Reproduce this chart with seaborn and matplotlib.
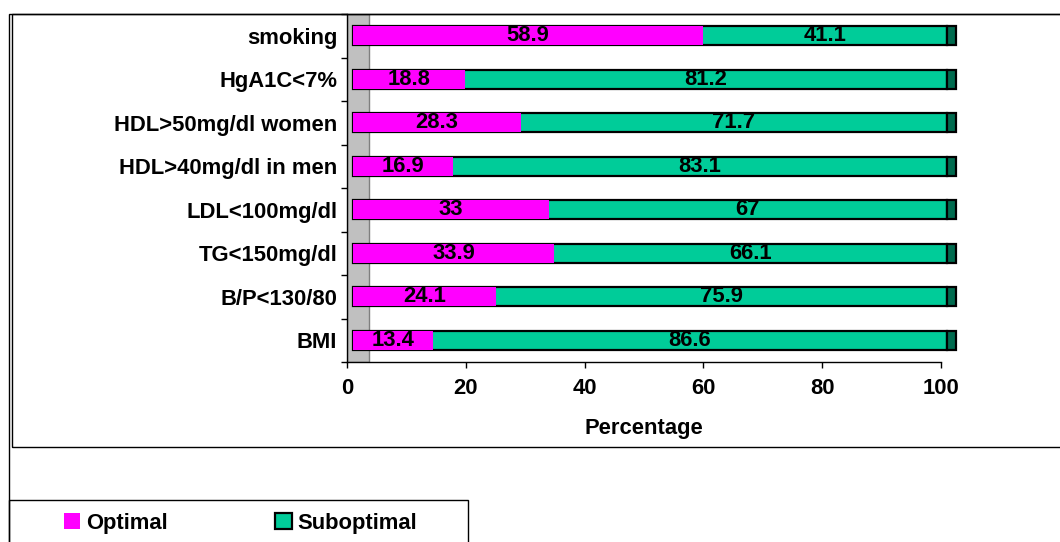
import matplotlib
matplotlib.use("Agg")
import matplotlib.pyplot as plt
from matplotlib.patches import Rectangle, Patch
import seaborn as sns
import pandas as pd

categories = ["smoking", "HgA1C<7%", "HDL>50mg/dl women", "HDL>40mg/dl in men",
              "LDL<100mg/dl", "TG<150mg/dl", "B/P<130/80", "BMI"]
optimal = [58.9, 18.8, 28.3, 16.9, 33, 33.9, 24.1, 13.4]
suboptimal = [41.1, 81.2, 71.7, 83.1, 67, 66.1, 75.9, 86.6]
x_ticks = [0, 20, 40, 60, 80, 100]

PINK = "#ff00ff"
GREEN = "#00cc99"
GREEN_SIDE = "#006b4f"
WALL = "#c0c0c0"
DEPTH = 1.0      # 3-D depth shift of the bar faces
CAP = 1.6        # width of the visible bar end side
FS = 15.8

sns.set_style("white")
plt.rcParams["font.family"] = ["Liberation Sans", "DejaVu Sans"]
plt.rcParams["font.weight"] = "bold"
for key in ("text.color", "axes.labelcolor", "xtick.color", "ytick.color"):
    plt.rcParams[key] = "black"

df = pd.DataFrame({"cat": categories, "opt": optimal, "sub": suboptimal})
df["total"] = df["opt"] + df["sub"]

fig = plt.figure(figsize=(10.6, 5.42), dpi=100)
W, H = 1060, 542
ax = fig.add_axes([347 / W, 1 - 362 / H, (941 - 347) / W, (362 - 14) / H])

sns.barplot(data=df, x="total", y="cat", order=categories, color=GREEN,
            edgecolor="black", linewidth=1.6, width=0.44, saturation=1,
            ax=ax, zorder=2)
sns.barplot(data=df, x="opt", y="cat", order=categories, color=PINK,
            linewidth=0, width=0.44, saturation=1, ax=ax, zorder=3)

for p in ax.patches:
    p.set_x(p.get_x() + DEPTH)
    p.set_clip_on(False)

# back wall of the 3-D plot area
ax.axvspan(0, 3.7, facecolor=WALL, edgecolor="#7f7f7f", lw=1.0, zorder=0)

# right-hand side faces of the bars
ax.barh(range(len(categories)), [CAP] * len(categories),
        left=[DEPTH + t for t in df["total"]], height=0.44,
        color=GREEN_SIDE, edgecolor="black", linewidth=1.6, zorder=2,
        clip_on=False)

for i, (o, s) in enumerate(zip(optimal, suboptimal)):
    ax.text(DEPTH + o / 2, i, f"{o:g}", ha="center", va="center",
            fontsize=FS, fontweight="bold", zorder=5)
    ax.text(DEPTH + o + s / 2, i, f"{s:g}", ha="center", va="center",
            fontsize=FS, fontweight="bold", zorder=5)

ax.set_xlim(0, 100)
ax.set_ylim(len(categories) - 0.5, -0.5)
ax.set_xticks(x_ticks)
ax.set_xticklabels([str(t) for t in x_ticks], fontsize=FS, fontweight="bold")
ax.set_yticks(range(len(categories)))
ax.set_yticklabels(categories, fontsize=FS, fontweight="bold")
ax.set_yticks([i + 0.5 for i in range(-1, len(categories))], minor=True)
ax.tick_params(axis="y", which="major", length=0, pad=7)
ax.tick_params(axis="y", which="minor", length=4, width=1, color="black",
               direction="out", left=True)
ax.tick_params(axis="x", which="major", length=4.5, width=1, color="black",
               direction="out", bottom=True, pad=7)
ax.set_xlabel("Percentage", fontsize=FS, fontweight="bold", labelpad=14)
ax.set_ylabel("")
for side in ("top", "right"):
    ax.spines[side].set_visible(False)
for side in ("left", "bottom"):
    ax.spines[side].set_color("black")
    ax.spines[side].set_linewidth(1.0)
ax.grid(False)

# chart frames and legend box
fig.add_artist(Rectangle((9 / W, -0.1), 1.1, 1.1 - 14 / H, transform=fig.transFigure,
                         fill=False, edgecolor="black", lw=1.0, clip_on=False))
fig.add_artist(Rectangle((12 / W, 1 - 447 / H), 1.1, (447 - 14) / H,
                         transform=fig.transFigure, fill=False,
                         edgecolor="black", lw=1.0, clip_on=False))
fig.add_artist(Rectangle((9 / W, -0.1), (468 - 9) / W, 0.1 + 1 - 500 / H,
                         transform=fig.transFigure, fill=False,
                         edgecolor="black", lw=1.0, clip_on=False))

handles = [Patch(facecolor=PINK, edgecolor=PINK, lw=0),
           Patch(facecolor=GREEN, edgecolor="black", lw=1.6)]
fig.legend(handles, ["Optimal", "Suboptimal"], ncol=2, frameon=False,
           loc="center left", bbox_to_anchor=(64 / W, 1 - 523 / H),
           borderpad=0, borderaxespad=0, handlelength=0.75, handleheight=0.75,
           handletextpad=0.25, columnspacing=4.9,
           prop={"size": FS, "weight": "bold"})

fig.savefig("out.png", dpi=100)
